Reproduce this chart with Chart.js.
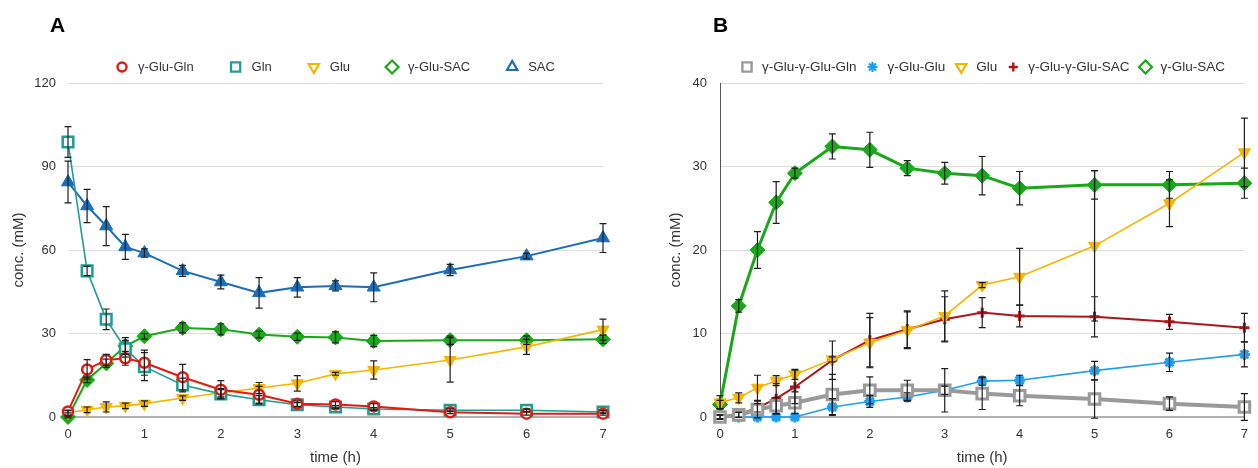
<!DOCTYPE html>
<html>
<head>
<meta charset="utf-8">
<script src="https://cdn.jsdelivr.net/npm/chart.js@4.4.1/dist/chart.umd.min.js"></script>
<style>
html,body{margin:0;padding:0;background:#fff;}
#wrap{position:relative;width:1258px;height:468px;overflow:hidden;}
.panel{position:absolute;top:0;width:629px;height:468px;}
</style>
</head>
<body>
<div id="wrap">
  <div class="panel" style="left:0"><canvas id="cA" width="629" height="468"></canvas></div>
  <div class="panel" style="left:629px"><canvas id="cB" width="629" height="468"></canvas></div>
</div>
<script>
// ---------- data ----------
const times = [0, 0.25, 0.5, 0.75, 1, 1.5, 2, 2.5, 3, 3.5, 4, 5, 6, 7];
const xTicks = [0, 1, 2, 3, 4, 5, 6, 7];
const yTicksA = [0, 30, 60, 90, 120];
const yTicksB = [0, 10, 20, 30, 40];

// Panel A
const gGluGlnA    = [2.0, 17.1, 20.5, 21.1, 19.5, 14.3, 9.8, 8.0, 4.8, 4.5, 3.8, 1.7, 1.2, 1.2];
const gGluGlnAErr = [0.5, 3.5, 2.0, 2.5, 4.5, 4.6, 3.3, 3.0, 1.0, 1.0, 1.0, 0.5, 0.5, 0.5];
const glnA        = [98.8, 52.5, 35.1, 24.5, 18.1, 11.5, 8.3, 6.2, 4.4, 3.6, 2.9, 2.4, 2.4, 1.8];
const glnAErr     = [5.5, 1.7, 3.7, 3.0, 5.0, 2.5, 1.5, 1.5, 0.8, 0.5, 0.5, 0.5, 0.5, 0.5];
const gluA        = [1.5, 2.6, 3.6, 4.0, 4.8, 6.8, 8.7, 10.4, 12.1, 15.5, 16.9, 20.5, 25.2, 31.4];
const gluAErr     = [0.8, 1.0, 1.8, 1.0, 1.0, 0.8, 1.5, 2.0, 2.8, 0.5, 3.3, 8.0, 2.7, 3.8];
const gGluSacA    = [0, 13.3, 19.3, 25.5, 29.0, 32.0, 31.5, 29.6, 28.8, 28.6, 27.3, 27.6, 27.6, 27.9];
const gGluSacAErr = [0.3, 1.0, 1.5, 3.0, 1.0, 1.8, 2.0, 1.2, 1.3, 2.0, 2.0, 1.5, 1.5, 1.5];
const sacA        = [84.4, 75.8, 68.6, 61.1, 58.9, 52.5, 48.5, 44.6, 46.6, 47.1, 46.6, 52.8, 57.8, 64.3];
const sacAErr     = [7.5, 6.0, 7.0, 4.5, 1.5, 2.0, 2.5, 5.5, 3.5, 1.8, 5.2, 2.0, 1.0, 5.2];

// Panel B
const ggGlnB      = [0, 0.25, 0.9, 1.35, 1.7, 2.7, 3.2, 3.2, 3.2, 2.8, 2.55, 2.15, 1.6, 1.2];
const ggGlnBErr   = [0.2, 0.3, 1.0, 1.0, 1.3, 2.4, 1.6, 1.2, 2.6, 1.9, 1.2, 2.3, 0.8, 1.6];
const gGluGluB    = [0, 0, 0, 0, 0, 1.2, 1.85, 2.4, 3.2, 4.3, 4.4, 5.55, 6.55, 7.5];
const gGluGluBErr = [0, 0, 0, 0, 0, 1.0, 0.7, 0.5, 0.5, 0.5, 0.6, 1.1, 1.1, 1.5];
const gluB        = [1.75, 2.3, 3.5, 4.35, 5.1, 6.9, 8.9, 10.4, 12.1, 15.8, 16.8, 20.5, 25.6, 31.7];
const gluBErr     = [0.8, 0.6, 1.5, 0.6, 0.6, 0.3, 3.0, 2.2, 3.0, 0.3, 3.4, 9.0, 2.8, 4.1];
const ggSacB      = [0, 0.3, 1.1, 2.2, 3.6, 6.8, 9.2, 10.5, 11.7, 12.5, 12.1, 12.0, 11.4, 10.7];
const ggSacBErr   = [0.3, 0.3, 0.5, 1.8, 2.0, 2.3, 3.2, 2.2, 2.7, 1.8, 1.3, 2.4, 0.9, 1.7];
const gGluSacB    = [1.5, 13.3, 20.0, 25.7, 29.2, 32.4, 32.0, 29.8, 29.2, 28.9, 27.4, 27.8, 27.8, 28.0];
const gGluSacBErr = [0.5, 0.75, 2.2, 2.5, 0.6, 1.5, 2.1, 0.9, 1.3, 2.3, 2.0, 1.7, 1.6, 1.8];

// ---------- helpers ----------
const FONT = '"Liberation Sans", Arial, Helvetica, sans-serif';
const pts = vals => times.map((t, i) => ({x: t, y: vals[i]}));

function drawMarker(ctx, style, rot, r, bw, x, y) {
  if (Chart.helpers && Chart.helpers.drawPoint) {
    Chart.helpers.drawPoint(ctx, {pointStyle: style, rotation: rot || 0, radius: r, borderWidth: bw}, x, y);
  } else {
    ctx.beginPath(); ctx.arc(x, y, r, 0, Math.PI * 2); ctx.fill(); ctx.stroke();
  }
}

const errorBarPlugin = {
  id: 'errorBars',
  afterDatasetsDraw(chart) {
    const ctx = chart.ctx, ys = chart.scales.y;
    ctx.save();
    ctx.strokeStyle = '#1e1e1e';
    ctx.lineWidth = 1.2;
    chart.data.datasets.forEach((ds, i) => {
      if (!ds.errors) return;
      const meta = chart.getDatasetMeta(i);
      meta.data.forEach((el, j) => {
        const e = ds.errors[j];
        if (!e) return;
        const v = ds.data[j].y;
        const x = el.x;
        const yt = ys.getPixelForValue(v + e);
        const yb = ys.getPixelForValue(v - e);
        ctx.beginPath();
        ctx.moveTo(x, yt); ctx.lineTo(x, yb);
        ctx.moveTo(x - 3.5, yt); ctx.lineTo(x + 3.5, yt);
        ctx.moveTo(x - 3.5, yb); ctx.lineTo(x + 3.5, yb);
        ctx.stroke();
      });
    });
    ctx.restore();
  }
};

const decoPlugin = {
  id: 'deco',
  afterDraw(chart, args, o) {
    const ctx = chart.ctx;
    ctx.save();
    ctx.textBaseline = 'middle';
    ctx.textAlign = 'left';
    ctx.fillStyle = '#000';
    ctx.font = 'bold 21px ' + FONT;
    ctx.fillText(o.letter, o.letterX, o.letterY);
    ctx.font = o.legendSize + 'px ' + FONT;
    let x = o.legendX;
    chart.data.datasets.forEach(ds => {
      ctx.fillStyle = ds.legendFill;
      ctx.strokeStyle = ds.borderColor;
      ctx.lineWidth = ds.legendBorder;
      drawMarker(ctx, ds.pointStyle, ds.pointRotation, ds.legendRadius, ds.legendBorder, x, o.legendY);
      ctx.fillStyle = '#333';
      ctx.fillText(ds.label, x + o.markerGap, o.legendY + 0.5);
      x += o.markerGap + ctx.measureText(ds.label).width + o.itemGap;
    });
    ctx.restore();
  }
};

function series(label, vals, errs, color, opt) {
  return Object.assign({
    label: label,
    data: pts(vals),
    errors: errs,
    borderColor: color,
    pointBorderColor: color,
    backgroundColor: color,
    pointBackgroundColor: color,
    clip: false,
    tension: 0,
    legendFill: '#fff',
    legendBorder: 2,
    legendRadius: 5.5
  }, opt);
}

function makeOptions(cfg) {
  return {
    responsive: false,
    animation: false,
    events: [],
    layout: {padding: {left: 0, top: 83, right: cfg.padRight, bottom: 0}},
    plugins: {
      legend: {display: false},
      tooltip: {enabled: false},
      deco: cfg.deco
    },
    scales: {
      x: {
        type: 'linear', min: 0, max: 7,
        afterBuildTicks: s => { s.ticks = xTicks.map(v => ({value: v})); },
        afterFit: s => { s.height = 51; },
        grid: {display: false, drawTicks: false},
        border: {display: false},
        ticks: {padding: 10, color: '#333', font: {family: FONT, size: 13}},
        title: {display: true, text: 'time (h)', color: '#333', font: {family: FONT, size: 15}, padding: {top: 0, bottom: 1}}
      },
      y: {
        type: 'linear', min: 0, max: cfg.yMax,
        afterBuildTicks: s => { s.ticks = cfg.yTicks.map(v => ({value: v})); },
        afterFit: s => { s.width = cfg.yWidth; },
        grid: {
          drawTicks: false,
          color: c => (c.tick && c.tick.value === 0) ? '#b0b0b0' : '#dcdcdc',
          lineWidth: c => (c.tick && c.tick.value === 0) ? 2 : 1
        },
        border: cfg.yBorder,
        ticks: {padding: cfg.tickPad, color: '#333', font: {family: FONT, size: 13}},
        title: {display: true, text: 'conc. (mM)', color: '#333', font: {family: FONT, size: 15}, padding: {top: cfg.titlePad, bottom: 0}}
      }
    }
  };
}

// ---------- Panel A ----------
const RED = '#e8170f', TEAL = '#1d9e90', YEL = '#f6b500', GREEN = '#1aa81a', BLUE = '#1b6db6';
new Chart(document.getElementById('cA'), {
  type: 'line',
  data: {
    datasets: [
      series('γ-Glu-Gln', gGluGlnA, gGluGlnAErr, RED, {pointStyle: 'circle', pointRadius: 5, pointBorderWidth: 2.5, pointBackgroundColor: '#fff', borderWidth: 2, legendRadius: 4.5, legendBorder: 2.4}),
      series('Gln', glnA, glnAErr, TEAL, {pointStyle: 'rect', pointRadius: 7.5, pointBorderWidth: 2.5, pointBackgroundColor: '#f3fbfa', borderWidth: 1.6, legendRadius: 6.5, legendBorder: 2.2}),
      series('Glu', gluA, gluAErr, YEL, {pointStyle: 'triangle', pointRotation: 180, pointRadius: 7, pointBorderWidth: 1, borderWidth: 1.6, legendRadius: 6, legendBorder: 2.2}),
      series('γ-Glu-SAC', gGluSacA, gGluSacAErr, GREEN, {pointStyle: 'rectRot', pointRadius: 7.5, pointBorderWidth: 1, borderWidth: 2, legendRadius: 6.5, legendBorder: 2.2}),
      series('SAC', sacA, sacAErr, BLUE, {pointStyle: 'triangle', pointRadius: 7.5, pointBorderWidth: 1, borderWidth: 2, legendRadius: 6, legendBorder: 2.2})
    ]
  },
  options: makeOptions({
    padRight: 26, yMax: 120, yTicks: yTicksA, yWidth: 68, tickPad: 12, titlePad: 10,
    yBorder: {display: false},
    deco: {letter: 'A', letterX: 50, letterY: 26, legendX: 122, legendY: 67, legendSize: 13, markerGap: 16, itemGap: 42}
  }),
  plugins: [errorBarPlugin, decoPlugin]
});

// ---------- Panel B ----------
const GRAY = '#9a9a9a', LBLUE = '#1c9ff0', DRED = '#b0141a';
new Chart(document.getElementById('cB'), {
  type: 'line',
  data: {
    datasets: [
      series('γ-Glu-γ-Glu-Gln', ggGlnB, ggGlnBErr, GRAY, {pointStyle: 'rect', pointRadius: 7.5, pointBorderWidth: 3, pointBackgroundColor: '#fff', borderWidth: 4, legendRadius: 6.5, legendBorder: 2.4}),
      series('γ-Glu-Glu', gGluGluB, gGluGluBErr, LBLUE, {pointStyle: 'star', pointRadius: 5.5, pointBorderWidth: 3, borderWidth: 1.6, legendRadius: 5, legendBorder: 2.2}),
      series('Glu', gluB, gluBErr, YEL, {pointStyle: 'triangle', pointRotation: 180, pointRadius: 7, pointBorderWidth: 1, borderWidth: 1.6, legendRadius: 6, legendBorder: 2.2}),
      series('γ-Glu-γ-Glu-SAC', ggSacB, ggSacBErr, DRED, {pointStyle: 'cross', pointRadius: 5, pointBorderWidth: 3, borderWidth: 2, legendRadius: 4.5, legendBorder: 2.4}),
      series('γ-Glu-SAC', gGluSacB, gGluSacBErr, GREEN, {pointStyle: 'rectRot', pointRadius: 7.5, pointBorderWidth: 1, borderWidth: 3, legendRadius: 6.5, legendBorder: 2.2})
    ]
  },
  options: makeOptions({
    padRight: 5, yMax: 40, yTicks: yTicksB, yWidth: 91, tickPad: 13, titlePad: 38,
    yBorder: {display: true, color: '#555', width: 1},
    deco: {letter: 'B', letterX: 84, letterY: 26, legendX: 118, legendY: 67, legendSize: 13.5, markerGap: 15, itemGap: 16}
  }),
  plugins: [errorBarPlugin, decoPlugin]
});
</script>
</body>
</html>
